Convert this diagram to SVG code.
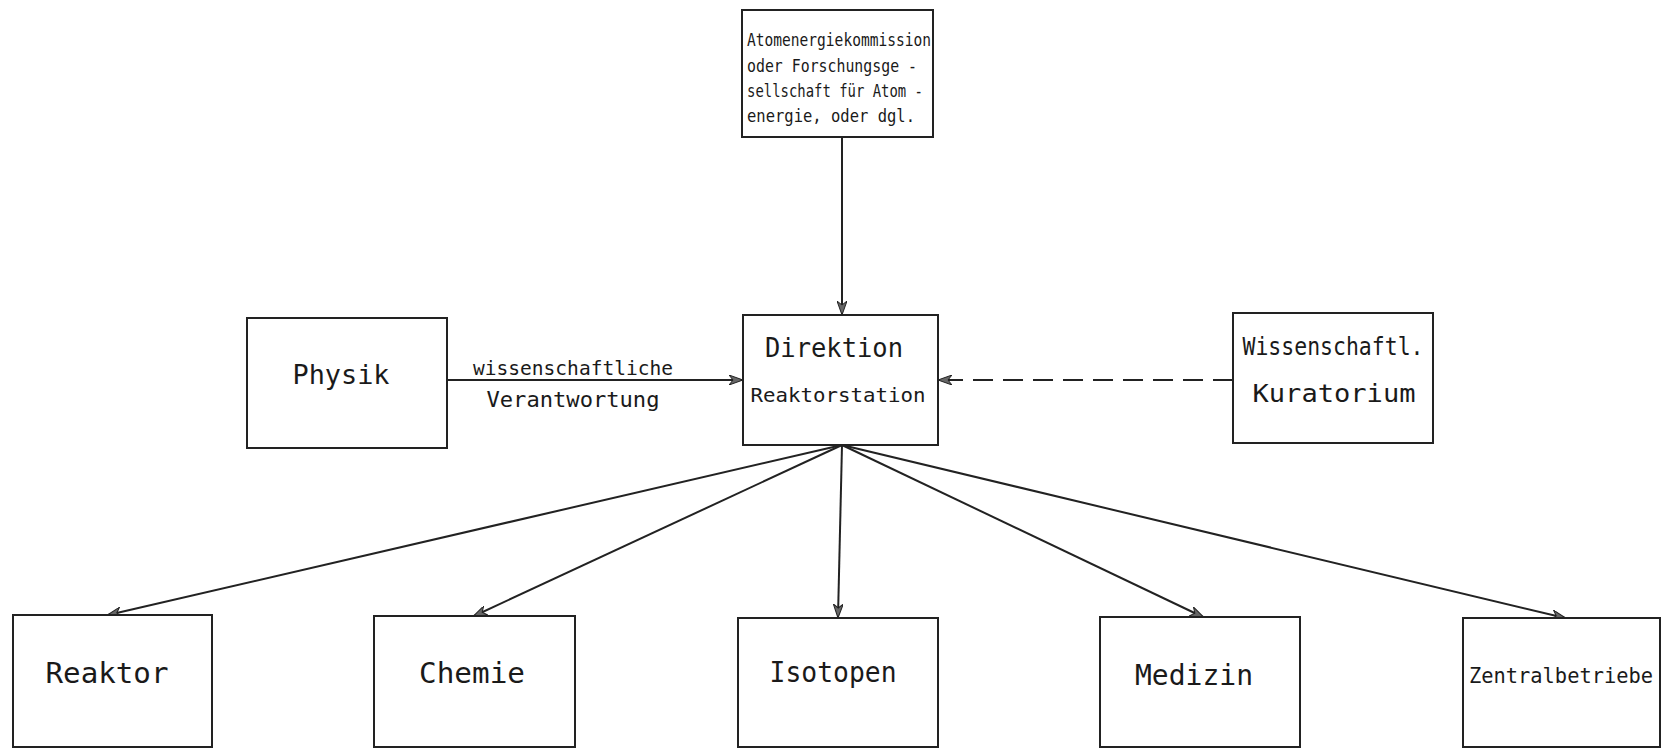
<svg xmlns="http://www.w3.org/2000/svg" width="1663" height="749" viewBox="0 0 1663 749">
<style>
.box{fill:#fff;stroke:#222;stroke-width:2}
.t{font-family:"DejaVu Sans Mono","Liberation Mono",monospace;fill:#1a1a1a}
.c{fill:none;stroke:#222;stroke-width:2}
.d{fill:none;stroke:#222;stroke-width:2;stroke-dasharray:20 10}
</style>
<defs>
<marker id="ah" viewBox="0 0 14 10" refX="13" refY="5" markerWidth="14" markerHeight="10" markerUnits="userSpaceOnUse" orient="auto">
<path d="M0,0 L14,5 L0,10 L4,5 z" fill="#666" stroke="#222" stroke-width="1"/>
</marker>
</defs>
<rect width="1663" height="749" fill="#fff"/>
<g id="connectors">
<line class="c" x1="842" y1="137" x2="842" y2="314" marker-end="url(#ah)"/>
<line class="c" x1="447" y1="380" x2="742" y2="380" marker-end="url(#ah)"/>
<line class="d" x1="1233" y1="380" x2="939" y2="380" marker-end="url(#ah)"/>
<line class="c" x1="842" y1="445" x2="108" y2="615" marker-end="url(#ah)"/>
<line class="c" x1="842" y1="445" x2="474" y2="616" marker-end="url(#ah)"/>
<line class="c" x1="842" y1="445" x2="838" y2="617" marker-end="url(#ah)"/>
<line class="c" x1="842" y1="445" x2="1203" y2="617" marker-end="url(#ah)"/>
<line class="c" x1="842" y1="445" x2="1565" y2="618" marker-end="url(#ah)"/>
<text class="t" x="573" y="375" font-size="20" text-anchor="middle" textLength="200" lengthAdjust="spacingAndGlyphs">wissenschaftliche</text>
<text class="t" x="573" y="407" font-size="21" text-anchor="middle" textLength="173" lengthAdjust="spacingAndGlyphs">Verantwortung</text>
</g>
<g id="kommission">
<rect class="box" x="742" y="10" width="191" height="127"/>
<text class="t" x="747" y="46" font-size="17" textLength="184" lengthAdjust="spacingAndGlyphs">Atomenergiekommission</text>
<text class="t" x="747" y="72" font-size="17" textLength="170" lengthAdjust="spacingAndGlyphs">oder Forschungsge -</text>
<text class="t" x="747" y="97" font-size="17" textLength="176" lengthAdjust="spacingAndGlyphs">sellschaft für Atom -</text>
<text class="t" x="747" y="122" font-size="17" textLength="168" lengthAdjust="spacingAndGlyphs">energie, oder dgl.</text>
</g>
<g id="physik">
<rect class="box" x="247" y="318" width="200" height="130"/>
<text class="t" x="341" y="384" font-size="26" text-anchor="middle" textLength="97" lengthAdjust="spacingAndGlyphs">Physik</text>
</g>
<g id="direktion">
<rect class="box" x="743" y="315" width="195" height="130"/>
<text class="t" x="834" y="357" font-size="26" text-anchor="middle" textLength="138" lengthAdjust="spacingAndGlyphs">Direktion</text>
<text class="t" x="838" y="402" font-size="20" text-anchor="middle" textLength="175" lengthAdjust="spacingAndGlyphs">Reaktorstation</text>
</g>
<g id="kuratorium">
<rect class="box" x="1233" y="313" width="200" height="130"/>
<text class="t" x="1333" y="355" font-size="24" text-anchor="middle" textLength="181" lengthAdjust="spacingAndGlyphs">Wissenschaftl.</text>
<text class="t" x="1334" y="402" font-size="25" text-anchor="middle" textLength="163" lengthAdjust="spacingAndGlyphs">Kuratorium</text>
</g>
<g id="reaktor">
<rect class="box" x="13" y="615" width="199" height="132"/>
<text class="t" x="107" y="683" font-size="28" text-anchor="middle" textLength="123" lengthAdjust="spacingAndGlyphs">Reaktor</text>
</g>
<g id="chemie">
<rect class="box" x="374" y="616" width="201" height="131"/>
<text class="t" x="472" y="683" font-size="28" text-anchor="middle" textLength="106" lengthAdjust="spacingAndGlyphs">Chemie</text>
</g>
<g id="isotopen">
<rect class="box" x="738" y="618" width="200" height="129"/>
<text class="t" x="833" y="682" font-size="28" text-anchor="middle" textLength="127" lengthAdjust="spacingAndGlyphs">Isotopen</text>
</g>
<g id="medizin">
<rect class="box" x="1100" y="617" width="200" height="130"/>
<text class="t" x="1194" y="685" font-size="28" text-anchor="middle" textLength="118" lengthAdjust="spacingAndGlyphs">Medizin</text>
</g>
<g id="zentralbetriebe">
<rect class="box" x="1463" y="618" width="197" height="129"/>
<text class="t" x="1561" y="683" font-size="21" text-anchor="middle" textLength="184" lengthAdjust="spacingAndGlyphs">Zentralbetriebe</text>
</g>
</svg>
